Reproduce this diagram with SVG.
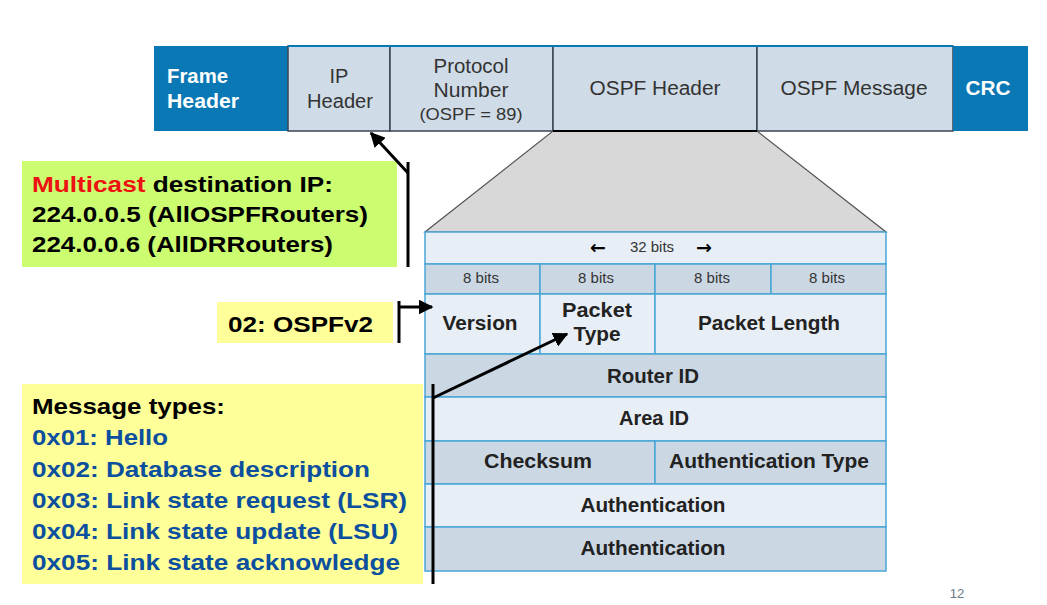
<svg xmlns="http://www.w3.org/2000/svg" width="1047" height="605" viewBox="0 0 1047 605">
<defs>
<marker id="arr" viewBox="0 0 10 10" refX="9" refY="5" markerWidth="5" markerHeight="5" orient="auto-start-reverse" markerUnits="strokeWidth">
<path d="M0,0 L10,5 L0,10 z" fill="#000"/>
</marker>
<style>
text{font-family:"Liberation Sans",Arial,sans-serif}
.blue{fill:#0a78b4}
.cell{fill:#cfdbe6;stroke:#3a4650;stroke-width:1.5}
.cap{font-size:20px;fill:#333;text-anchor:middle}
.wb{font-size:20px;fill:#fff;font-weight:bold}
.lt{fill:#e8eef5;stroke:#4aa6d6;stroke-width:1.5}
.dk{fill:#cbd8e4;stroke:#4aa6d6;stroke-width:1.5}
.tb{font-size:20px;font-weight:bold;fill:#222;text-anchor:middle}
.tn{font-size:15px;fill:#333;text-anchor:middle}
.ar{font-family:"DejaVu Sans",sans-serif;font-size:19px;font-weight:bold;fill:#000;text-anchor:middle}
.note{font-size:22px;font-weight:bold;fill:#000}
.nb{font-size:22px;font-weight:bold;fill:#0b4f9e}
.con{stroke:#000;stroke-width:3;fill:none}
</style>
</defs>
<rect width="1047" height="605" fill="#fff"/>

<g id="frame">
<rect id="frame-header" x="154" y="46" width="134" height="85" class="blue"/>
<text x="167" y="83" class="wb" textLength="61" lengthAdjust="spacingAndGlyphs">Frame</text>
<text x="167" y="108" class="wb" textLength="72" lengthAdjust="spacingAndGlyphs">Header</text>
<rect id="ip-header" x="288" y="46" width="102" height="85" class="cell"/>
<text x="339" y="83" class="cap">IP</text>
<text x="340" y="108" class="cap" textLength="66" lengthAdjust="spacingAndGlyphs">Header</text>
<rect id="protocol" x="390" y="46" width="163" height="85" class="cell"/>
<text x="471" y="73" class="cap" textLength="75" lengthAdjust="spacingAndGlyphs">Protocol</text>
<text x="471" y="97" class="cap" textLength="75" lengthAdjust="spacingAndGlyphs">Number</text>
<text x="471" y="120" class="cap" style="font-size:17px" textLength="103" lengthAdjust="spacingAndGlyphs">(OSPF = 89)</text>
<rect id="ospf-header" x="553" y="46" width="204" height="85" class="cell"/>
<text x="655" y="95" class="cap" textLength="131" lengthAdjust="spacingAndGlyphs">OSPF Header</text>
<rect id="ospf-message" x="757" y="46" width="196" height="85" class="cell"/>
<text x="854" y="95" class="cap" textLength="147" lengthAdjust="spacingAndGlyphs">OSPF Message</text>
<rect id="crc" x="953" y="46" width="75" height="85" class="blue"/>
<text x="988" y="95" class="wb" text-anchor="middle" textLength="45" lengthAdjust="spacingAndGlyphs">CRC</text>
<line x1="288" y1="46" x2="953" y2="46" stroke="#0a78b4" stroke-width="2"/>
</g>

<g id="zoom">
<polygon points="553,131 757,131 886,232 425,232" fill="#d8d8d8" stroke="#555" stroke-width="1.2"/>
<line x1="553" y1="131" x2="757" y2="131" stroke="#000" stroke-width="2"/>
</g>

<g id="ospf-table">
<rect x="425" y="232" width="461" height="32" class="lt"/>
<text x="598" y="254" class="ar">←</text>
<text x="652" y="252" class="tn">32 bits</text>
<text x="704" y="254" class="ar">→</text>
<rect x="425" y="264" width="115" height="30" class="dk"/>
<rect x="540" y="264" width="115" height="30" class="dk"/>
<rect x="655" y="264" width="116" height="30" class="dk"/>
<rect x="771" y="264" width="115" height="30" class="dk"/>
<text x="481" y="283" class="tn">8 bits</text>
<text x="596" y="283" class="tn">8 bits</text>
<text x="712" y="283" class="tn">8 bits</text>
<text x="827" y="283" class="tn">8 bits</text>
<rect x="425" y="294" width="115" height="60" class="lt"/>
<rect x="540" y="294" width="115" height="60" class="lt"/>
<rect x="655" y="294" width="231" height="60" class="lt"/>
<text x="480" y="330" class="tb" textLength="75" lengthAdjust="spacingAndGlyphs">Version</text>
<text x="597" y="317" class="tb" textLength="70" lengthAdjust="spacingAndGlyphs">Packet</text>
<text x="597" y="341" class="tb" textLength="47" lengthAdjust="spacingAndGlyphs">Type</text>
<text x="769" y="330" class="tb" textLength="142" lengthAdjust="spacingAndGlyphs">Packet Length</text>
<rect x="425" y="354" width="461" height="43" class="dk"/>
<text x="653" y="383" class="tb" textLength="92" lengthAdjust="spacingAndGlyphs">Router ID</text>
<rect x="425" y="397" width="461" height="44" class="lt"/>
<text x="654" y="425" class="tb" textLength="70" lengthAdjust="spacingAndGlyphs">Area ID</text>
<rect x="425" y="441" width="230" height="43" class="dk"/>
<rect x="655" y="441" width="231" height="43" class="dk"/>
<text x="538" y="468" class="tb" textLength="108" lengthAdjust="spacingAndGlyphs">Checksum</text>
<text x="769" y="468" class="tb" textLength="200" lengthAdjust="spacingAndGlyphs">Authentication Type</text>
<rect x="425" y="484" width="461" height="43" class="lt"/>
<text x="653" y="512" class="tb" textLength="145" lengthAdjust="spacingAndGlyphs">Authentication</text>
<rect x="425" y="527" width="461" height="44" class="dk"/>
<text x="653" y="555" class="tb" textLength="145" lengthAdjust="spacingAndGlyphs">Authentication</text>
</g>

<g id="multicast-note">
<rect x="22" y="161" width="375" height="106" fill="#ccfc70"/>
<text x="32" y="192" class="note" textLength="301" lengthAdjust="spacingAndGlyphs"><tspan fill="#ee1111">Multicast</tspan> destination IP:</text>
<text x="32" y="222" class="note" textLength="336" lengthAdjust="spacingAndGlyphs">224.0.0.5 (AllOSPFRouters)</text>
<text x="32" y="252" class="note" textLength="301" lengthAdjust="spacingAndGlyphs">224.0.0.6 (AllDRRouters)</text>
</g>

<g id="version-note">
<rect x="217" y="302" width="176" height="41" fill="#ffff99"/>
<text x="228" y="332" class="note" textLength="145" lengthAdjust="spacingAndGlyphs">02: OSPFv2</text>
</g>

<g id="types-note">
<rect x="22" y="384" width="401" height="200" fill="#ffff99"/>
<text x="32" y="414" class="note" textLength="193" lengthAdjust="spacingAndGlyphs">Message types:</text>
<text x="32" y="445" class="nb" textLength="136" lengthAdjust="spacingAndGlyphs">0x01: Hello</text>
<text x="32" y="477" class="nb" textLength="338" lengthAdjust="spacingAndGlyphs">0x02: Database description</text>
<text x="32" y="508" class="nb" textLength="375" lengthAdjust="spacingAndGlyphs">0x03: Link state request (LSR)</text>
<text x="32" y="539" class="nb" textLength="366" lengthAdjust="spacingAndGlyphs">0x04: Link state update (LSU)</text>
<text x="32" y="570" class="nb" textLength="368" lengthAdjust="spacingAndGlyphs">0x05: Link state acknowledge</text>
</g>

<g id="connectors">
<line x1="408" y1="162" x2="408" y2="267" class="con"/>
<path d="M408,173 L371,133" class="con" marker-end="url(#arr)"/>
<line x1="399" y1="301" x2="399" y2="343" class="con"/>
<path d="M399,307 L432,307" class="con" marker-end="url(#arr)"/>
<line x1="433" y1="384" x2="433" y2="584" class="con"/>
<path d="M433,398 L567,334" class="con" marker-end="url(#arr)"/>
</g>

<text x="957" y="598" font-size="13" fill="#6a7a8a" text-anchor="middle">12</text>
</svg>
